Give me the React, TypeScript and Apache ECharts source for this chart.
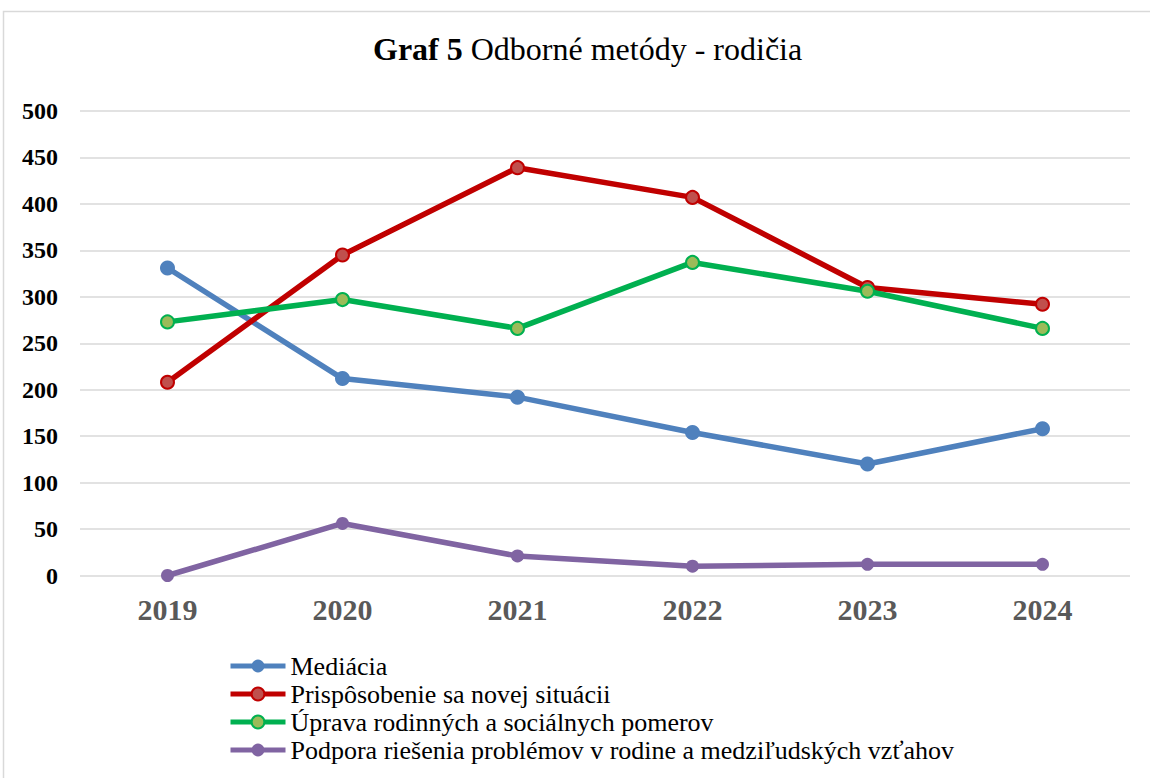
import React, { useEffect, useRef } from "react";
import * as echarts from "echarts";

const years = ["2019", "2020", "2021", "2022", "2023", "2024"];
const mediacia = [331, 212, 192, 154, 120, 158];
const prisposobenie = [208, 345, 439, 407, 310, 292];
const uprava = [273, 297, 266, 337, 306, 266];
const podpora = [0, 56, 21, 10, 12, 12];
const seriesNames = [
  "Mediácia",
  "Prispôsobenie sa novej situácii",
  "Úprava rodinných a sociálnych pomerov",
  "Podpora riešenia problémov v rodine a medziľudských vzťahov",
];

const FONT = "Liberation Serif";

export default function App() {
  const ref = useRef<HTMLDivElement>(null);
  useEffect(() => {
    if (!ref.current) return;
    const chart = echarts.init(ref.current, undefined, { renderer: "svg" });
    const mk = (name: string, data: number[], line: string, fill: string, border: string, size: number, bw: number) => ({
      name,
      type: "line",
      data,
      symbol: "circle",
      symbolSize: size,
      lineStyle: { color: line, width: 5.5 },
      itemStyle: { color: fill, borderColor: border, borderWidth: bw },
    });
    chart.setOption({
      animation: false,
      backgroundColor: "#ffffff",
      textStyle: { fontFamily: FONT },
      title: {
        text: "{b|Graf 5} {n|Odborné metódy - rodičia}",
        left: 368,
        top: 28,
        textStyle: {
          fontFamily: FONT,
          fontSize: 32,
          fontWeight: "normal",
          color: "#000",
          rich: {
            b: { fontFamily: FONT, fontSize: 32, fontWeight: "bold", color: "#000" },
            n: { fontFamily: FONT, fontSize: 32, fontWeight: "normal", color: "#000" },
          },
        },
      },
      graphic: [
        {
          type: "rect",
          shape: { x: 3.5, y: 11.5, width: 1160, height: 800 },
          style: { fill: "none", stroke: "#d9d9d9", lineWidth: 1.5 },
          silent: true,
        },
      ],
      grid: { left: 80, right: 20, top: 111, bottom: 202.5, containLabel: false },
      xAxis: {
        type: "category",
        data: years,
        boundaryGap: true,
        axisLine: { show: false },
        axisTick: { show: false },
        axisLabel: {
          margin: 19,
          fontFamily: FONT,
          fontSize: 30,
          fontWeight: "bold",
          color: "#595959",
        },
      },
      yAxis: {
        type: "value",
        min: 0,
        max: 500,
        interval: 50,
        axisLine: { show: false },
        axisTick: { show: false },
        splitLine: { lineStyle: { color: "#d9d9d9", width: 1.5 } },
        axisLabel: {
          margin: 22,
          fontFamily: FONT,
          fontSize: 24,
          fontWeight: "bold",
          color: "#000",
        },
      },
      legend: {
        orient: "vertical",
        left: 228,
        top: 653,
        height: 300,
        padding: 0,
        itemWidth: 55,
        itemHeight: 16,
        itemGap: 2,
        lineStyle: { width: 5 },
        textStyle: {
          fontFamily: FONT,
          fontSize: 26,
          fontWeight: "normal",
          color: "#000",
        },
        data: seriesNames,
      },
      series: [
        mk(seriesNames[0], mediacia, "#4F81BD", "#4F81BD", "#4F81BD", 15, 0),
        mk(seriesNames[1], prisposobenie, "#C00000", "#C0504D", "#C00000", 13, 2),
        mk(seriesNames[2], uprava, "#00B050", "#9BBB59", "#00B050", 13, 2),
        mk(seriesNames[3], podpora, "#8064A2", "#8064A2", "#8064A2", 13, 0),
      ],
    });
    return () => chart.dispose();
  }, []);
  return (
    <div
      ref={ref}
      style={{ position: "fixed", left: 0, top: 0, width: 1150, height: 778 }}
    />
  );
}
